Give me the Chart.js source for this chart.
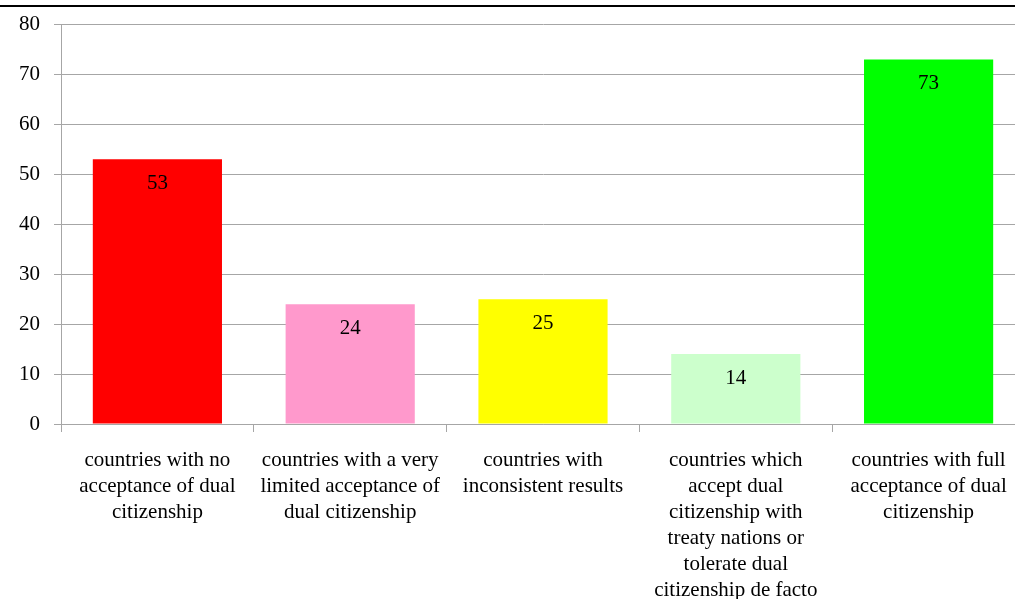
<!DOCTYPE html>
<html>
<head>
<meta charset="utf-8">
<script src="https://cdn.jsdelivr.net/npm/chart.js@4"></script>
<style>
    html, body { margin: 0; padding: 0; background: #fff; overflow: hidden; }
    #wrap { position: relative; width: 1025px; height: 599px; }
    #topline { position: absolute; left: 0; top: 5px; width: 1015px; height: 2px; background: #000; }
</style>
</head>
<body>
<div id="wrap">
    <canvas id="chart" width="1025" height="599"></canvas>
    <div id="topline"></div>
</div>
<script>
// categories and values
const categories = [
    ['countries with no', 'acceptance of dual', 'citizenship'],
    ['countries with a very', 'limited acceptance of', 'dual citizenship'],
    ['countries with', 'inconsistent results'],
    ['countries which', 'accept dual', 'citizenship with', 'treaty nations or', 'tolerate dual', 'citizenship de facto'],
    ['countries with full', 'acceptance of dual', 'citizenship']
];
const counts = [53, 24, 25, 14, 73];
const barColors = ['#FF0000', '#FF99CC', '#FFFF00', '#CCFFCC', '#00FF00'];
const yTicks = [0, 10, 20, 30, 40, 50, 60, 70, 80];

const serif = "'Liberation Serif', 'Times New Roman', serif";
const gridColor = '#A6A6A6';

// value labels drawn just inside the top of each bar
const valueLabels = {
    id: 'valueLabels',
    afterDatasetsDraw(chart) {
        const ctx = chart.ctx;
        const meta = chart.getDatasetMeta(0);
        ctx.save();
        ctx.font = '21px ' + serif;
        ctx.fillStyle = '#000';
        ctx.textAlign = 'center';
        ctx.textBaseline = 'middle';
        meta.data.forEach((bar, i) => {
            ctx.fillText(String(counts[i]), bar.x, bar.y + 24);
        });
        ctx.restore();
    }
};

const ctx = document.getElementById('chart').getContext('2d');
new Chart(ctx, {
    type: 'bar',
    data: {
        labels: categories,
        datasets: [{
            data: counts,
            backgroundColor: barColors,
            borderWidth: 0,
            barPercentage: 0.67,
            categoryPercentage: 1
        }]
    },
    options: {
        responsive: false,
        animation: false,
        layout: { padding: { top: 24, left: 0, right: 0, bottom: 0 } },
        plugins: {
            legend: { display: false },
            tooltip: { enabled: false }
        },
        scales: {
            x: {
                afterFit(scale) { scale.height = 175; },
                border: { color: gridColor, width: 1 },
                grid: {
                    drawOnChartArea: false,
                    color: gridColor,
                    tickLength: 8,
                    offset: true
                },
                ticks: {
                    autoSkip: false,
                    maxRotation: 0,
                    padding: 15,
                    color: '#000',
                    font: { family: serif, size: 21, lineHeight: 1.24 }
                }
            },
            y: {
                min: 0,
                max: 80,
                afterFit(scale) { scale.width = 61; },
                afterBuildTicks(scale) { scale.ticks = yTicks.map(v => ({ value: v })); },
                border: { color: gridColor, width: 1 },
                grid: { color: gridColor, tickLength: 7 },
                ticks: {
                    padding: 14,
                    color: '#000',
                    font: { family: serif, size: 21, lineHeight: 1 }
                }
            }
        }
    },
    plugins: [valueLabels]
});
</script>
</body>
</html>
